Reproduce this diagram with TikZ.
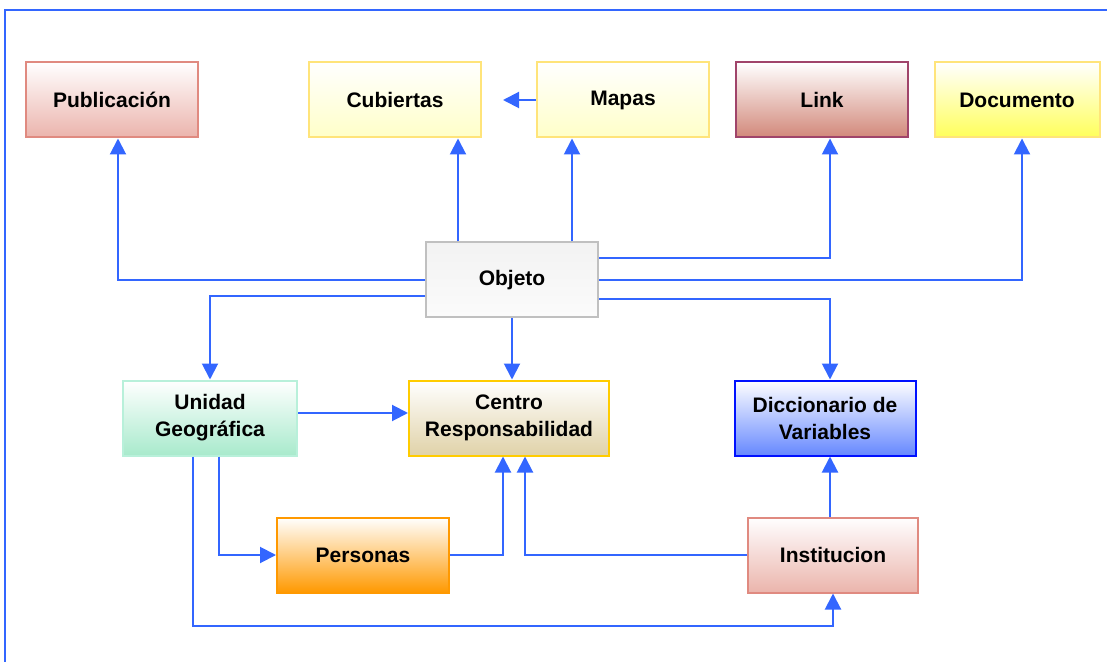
\documentclass[tikz,border=0pt]{standalone}
\usepackage{fontspec}
\setmainfont{Liberation Sans}
\usepackage{xcolor}
\usepackage{tikz}
\usetikzlibrary{arrows.meta, positioning}

\definecolor{linkblue}{HTML}{3366FF}
\definecolor{rosebd}{HTML}{E08A80}
\definecolor{rosefill}{HTML}{EBB4AC}
\definecolor{yelbd}{HTML}{FFE47A}
\definecolor{yelfill}{HTML}{FFFFC8}
\definecolor{docfill}{HTML}{FFFF5A}
\definecolor{linkbd}{HTML}{A0446A}
\definecolor{linkfill}{HTML}{D2887A}
\definecolor{graybd}{HTML}{C0C0C0}
\definecolor{greenbd}{HTML}{B8F0DA}
\definecolor{greenfill}{HTML}{A8EACC}
\definecolor{goldbd}{HTML}{FFCC00}
\definecolor{goldfill}{HTML}{E0D2A8}
\definecolor{dicbd}{HTML}{0011FF}
\definecolor{dicfill}{HTML}{6688FF}
\definecolor{orangebd}{HTML}{FF9900}

\begin{document}
\begin{tikzpicture}[
    x=0.5pt, y=-0.5pt,
    box/.style={draw, line width=1pt, minimum width=86pt, minimum height=37.5pt, align=center,
        font=\fontsize{10.5}{13.5}\selectfont\bfseries, inner sep=2pt},
    arrow/.style={-{Triangle[length=8pt, width=8pt]}, draw=linkblue, line width=1pt},
    frame/.style={draw=linkblue, line width=1pt}
]
\useasboundingbox (0,0) rectangle (1107,662);
\draw[frame] (5,662) -- (5,10) -- (1107,10);

% --- fila superior ---
\node[box, draw=rosebd, top color=white, bottom color=rosefill] (pub) at (112,100) {Publicación};
\node[box, draw=yelbd, top color=white, bottom color=yelfill] (cub) at (395,100) {Cubiertas};
\node[box, draw=yelbd, top color=white, bottom color=yelfill] (map) at (623,100) {Mapas};
\node[box, draw=linkbd, top color=white, bottom color=linkfill] (lnk) at (822,100) {Link};
\node[box, draw=yelbd, top color=white, bottom color=docfill, minimum width=82.5pt] (doc) at (1017,100) {Documento};

% --- centro ---
\node[box, draw=graybd, top color=gray!10, bottom color=gray!3] (obj) at (512,280) {Objeto};

% --- fila media ---
\node[box, draw=greenbd, top color=white, bottom color=greenfill, minimum width=87pt] (uni) at (210,418) {Unidad\\Geográfica};
\node[box, draw=goldbd, top color=white, bottom color=goldfill, minimum width=100pt] (cen) at (509,418) {Centro\\Responsabilidad};
\node[box, draw=dicbd, top color=white, bottom color=dicfill, minimum width=90.5pt] (dic) at (825,418) {Diccionario de\\Variables};

% --- fila inferior ---
\node[box, draw=orangebd, top color=white, bottom color=orangebd] (per) at (363,555) {Personas};
\node[box, draw=rosebd, top color=white, bottom color=rosefill, minimum width=85pt] (ins) at (833,555) {Institucion};

% conexiones desde Objeto
\draw[arrow] (obj.west) -| ([xshift=3pt]pub.south);
\draw[arrow] ([xshift=-27pt]obj.north) -- ([xshift=-27pt]obj.north |- cub.south);
\draw[arrow] ([xshift=30pt]obj.north) -- ([xshift=30pt]obj.north |- map.south);
\draw[arrow] ([yshift=11pt]obj.east) -| ([xshift=4pt]lnk.south);
\draw[arrow] (obj.east) -| ([xshift=2.5pt]doc.south);
\draw[arrow] ([yshift=-9.5pt]obj.east) -| ([xshift=2.5pt]dic.north);
\draw[arrow] ([yshift=-8pt]obj.west) -| (uni.north);
\draw[arrow] (obj.south) -- (obj.south |- cen.north);
\draw[arrow] (map.west) -- ([xshift=10.5pt]cub.east);

% conexiones inferiores
\draw[arrow] ([yshift=2.5pt]uni.east) -- ([yshift=2.5pt]uni.east -| cen.west);
\draw[arrow] ([xshift=4.5pt]uni.south) |- (per.west);
\draw[arrow] (per.east) -| ([xshift=-3pt]cen.south);
\draw[arrow] (ins.west) -| ([xshift=8pt]cen.south);
\draw[arrow] ([xshift=-1.5pt]ins.north) -- ([xshift=-1.5pt]ins.north |- dic.south);
\draw[arrow] ([xshift=-8.5pt]uni.south) -- ++(0,169) -| (ins.south);
\end{tikzpicture}
\end{document}
